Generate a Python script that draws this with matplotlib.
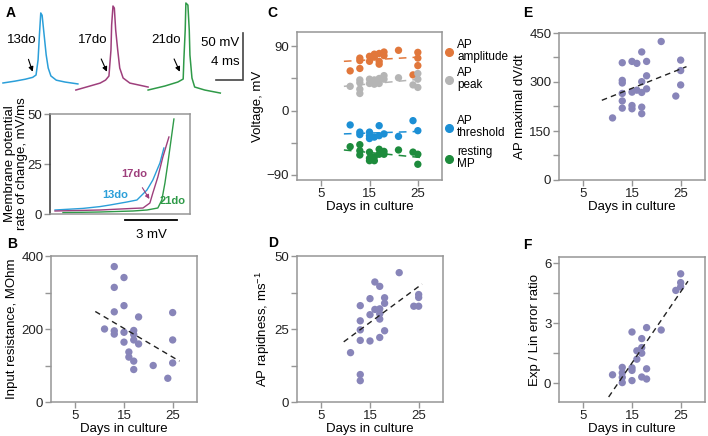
import matplotlib
matplotlib.use('Agg')
import matplotlib.pyplot as plt
import numpy as np

plt.rcParams['font.family'] = ['Liberation Sans', 'DejaVu Sans']
plt.rcParams['font.size'] = 9

# ---------------- data ----------------
# Panel A: example action potentials (time ms, voltage mV)
ap13_t = [0, 1.8, 3.3, 4.4, 4.9, 5.2, 5.4, 5.6, 5.8, 6.1, 6.4, 6.7, 7.1, 7.9, 9.2, 11.1]
ap13_v = [-60, -58, -56, -54, -51.5, -35.5, -9, 14.5, 12, -9, -30, -44, -52.5, -57, -59, -61]
ap17_t = [0, 2.1, 3.6, 4.4, 4.9, 5.2, 5.3, 5.5, 5.7, 5.9, 6.2, 6.5, 7.0, 8.0, 10.7]
ap17_v = [-67.5, -63.2, -60.1, -56.9, -52.6, -24.9, 1.6, 21.9, 19.7, -3.7, -24.9, -44.1, -54.7, -60.1, -64.3]
ap21_t = [0, 2.5, 4.4, 5.2, 5.3, 5.5, 5.6, 5.9, 6.1, 6.2, 6.5, 6.9, 8.4, 10.7]
ap21_v = [-67.5, -63.2, -59.0, -55.8, -35.6, -3.7, 25.1, 22.9, -3.7, -30.3, -54.7, -64.3, -67.5, -70.7]
ap_labels = ['13do', '17do', '21do']

# Panel A bottom: dV/dt vs membrane potential (mV, mV/ms)
ph13_x = [0.29, 1.91, 2.89, 3.47, 4.45, 5.03, 5.61, 5.95, 6.36, 6.59]
ph13_y = [2, 2.8, 3.7, 4.5, 6, 7, 12, 17, 25.5, 33]
ph17_x = [0.29, 2.89, 4.80, 5.38, 5.78, 5.95, 6.24, 6.53, 6.88]
ph17_y = [1.5, 2, 2.8, 3, 5.5, 10.5, 18.5, 28.5, 38.5]
ph21_x = [0.75, 2.89, 4.80, 5.61, 6.24, 6.47, 6.65, 6.82, 7.17]
ph21_y = [0.7, 1, 1.5, 2, 3, 7, 15.5, 25.5, 47.5]

# Panel B: input resistance
b_days = [13, 15, 13, 15, 13, 25, 18, 11, 13, 13, 15, 17, 17, 15, 17, 18, 25, 16, 16, 17, 25, 17, 21, 24]
b_res = [371, 341, 314, 264, 247, 245, 233, 200, 195, 186, 191, 196, 185, 164, 170, 159, 170, 137, 123, 112, 107, 89, 100, 65]
b_fit_x = [9.1, 26.4]
b_fit_y = [248, 112]

# Panel C: voltages
c_amp_days = [21, 18, 18, 17, 17, 17, 16, 16, 15, 15, 13, 13, 25, 25, 25, 24, 13, 11]
c_amp = [84.4, 82, 77, 80, 69, 65, 79, 75, 76, 69, 73.5, 70, 81.5, 73.5, 63, 50, 59, 55.6]
c_peak_days = [18, 21, 18, 17, 16, 15, 15, 13, 13, 13, 13, 11, 16, 17, 25, 25, 24, 25]
c_peak = [49, 46, 44, 45, 43, 44, 38, 43, 39, 30, 24, 34, 37, 38, 52, 44, 36, 32.5]
c_thr_days = [11, 13, 13, 15, 15, 16, 17, 17, 18, 21, 24, 25, 15]
c_thr = [-20, -30, -33.5, -30, -35, -37, -21, -35, -32.5, -36, -14, -28, -39]
c_rmp_days = [11, 13, 13, 13, 15, 15, 15, 16, 17, 17, 18, 18, 21, 24, 25, 25, 16]
c_rmp = [-50.4, -47.6, -56, -62, -58, -66.5, -70, -70, -54, -61, -61, -57, -55, -58, -61, -75, -64.6]
c_fit_x = [9.7, 25.5]
c_amp_fit = [69, 75]
c_peak_fit = [34, 44]
c_thr_fit = [-32.5, -29]
c_rmp_fit = [-55, -65.5]
c_legend = ['AP\namplitude', 'AP\npeak', 'AP\nthreshold', 'resting\nMP']

# Panel D: AP rapidness
d_days = [21, 16, 17, 13, 15, 18, 18, 16, 17, 15, 17, 17, 13, 13, 18, 13, 15, 17, 11, 13, 13, 24, 25, 25, 25]
d_rap = [44.3, 41.1, 39.6, 33.0, 35.4, 35.7, 33.8, 31.7, 31.9, 29.9, 30.2, 28.4, 27.8, 24.7, 24.4, 21.1, 20.9, 22.1, 16.9, 9.4, 7.3, 32.8, 32.8, 36.8, 35.8]
d_fit_x = [9.6, 25.7]
d_fit_y = [20.6, 40.4]

# Panel E: AP maximal dV/dt
e_days = [21, 17, 13, 15, 16, 18, 25, 25, 18, 13, 13, 17, 25, 16, 15, 17, 18, 13, 24, 13, 15, 13, 15, 17, 17, 11]
e_dvdt = [424, 392, 359, 363, 357, 363, 367, 335, 319, 305, 297, 301, 291, 275, 269, 268, 279, 265, 257, 242, 228, 220, 218, 223, 203, 190]
e_fit_x = [8.8, 26.2]
e_fit_y = [244, 347]

# Panel F: Exp / Lin error ratio
f_days = [25, 25, 25, 24, 18, 21, 15, 17, 17, 16, 17, 16, 13, 15, 18, 13, 15, 11, 13, 17, 18, 15, 13]
f_ratio = [5.46, 5.02, 4.81, 4.63, 2.77, 2.65, 2.55, 2.22, 1.77, 1.61, 1.49, 1.19, 0.78, 0.76, 0.71, 0.51, 0.63, 0.41, 0.28, 0.30, 0.20, 0.12, 0.02]
f_fit_x = [10.2, 26.5]
f_fit_y = [-0.70, 5.09]

# ---------------- style ----------------
W, H = 708, 436
fig = plt.figure(figsize=(W / 100, H / 100), dpi=100)

C13 = '#2b9fd9'
C17 = '#9e3f7c'
C21 = '#2f9a48'
DOT = '#8885b9'
SPINE = '#969696'


def add_ax(l, t, w, h):
    return fig.add_axes([l / W, 1 - (t + h) / H, w / W, h / H])


def style(ax):
    for s in ax.spines.values():
        s.set_color(SPINE)
        s.set_linewidth(1.1)
    ax.tick_params(which='both', direction='out', color=SPINE, width=1, labelsize=9.5,
                   labelcolor='#222222', pad=1.5)
    ax.tick_params(which='major', length=4)
    ax.tick_params(which='minor', length=4)


def panel_letter(x, y, s):
    fig.text(x / W, 1 - y / H, s, fontsize=10, fontweight='bold', ha='left', va='center')


# ---------- Panel A traces ----------
axt = add_ax(0, 0, 250, 100)
axt.set_axis_off()
axt.set_xlim(-0.44, 36.6)
axt.set_ylim(-78.1, 28.3)
offsets = [0, 10.8, 21.5]
for (tt, vv, col, off) in [(ap13_t, ap13_v, C13, offsets[0]), (ap17_t, ap17_v, C17, offsets[1]),
                           (ap21_t, ap21_v, C21, offsets[2])]:
    axt.plot(np.array(tt) + off, vv, color=col, lw=1.1)
for lab, tx, tip in zip(ap_labels, [2.8, 13.3, 24.1], [4.4, 15.4, 26.2]):
    axt.annotate(lab, xy=(tip, -48), xytext=(tx, -14.3), ha='center', va='center', fontsize=9.5,
                 arrowprops=dict(arrowstyle='-|>', color='k', lw=0.8, mutation_scale=7,
                                 shrinkA=8, shrinkB=0))
axt.plot([31.6, 35.6, 35.6], [-57, -57, -7], color='#444444', lw=1.2, solid_joinstyle='miter')
axt.text(35.0, -17.4, '50 mV', ha='right', va='center', fontsize=9.5)
axt.text(35.0, -37.7, '4 ms', ha='right', va='center', fontsize=9.5)
panel_letter(6, 13, 'A')

# ---------- Panel A bottom ----------
axa = add_ax(50, 114, 140, 100)
style(axa)
axa.plot(ph13_x, ph13_y, color=C13, lw=1)
axa.plot(ph17_x, ph17_y, color=C17, lw=1)
axa.plot(ph21_x, ph21_y, color=C21, lw=1)
axa.set_xlim(0, 8.1)
axa.set_ylim(0, 50)
axa.set_yticks([0, 25, 50])
axa.set_xticks([])
axa.spines['left'].set_color('#333333')
axa.text(3.8, 9.5, '13do', color=C13, fontsize=8, fontweight='bold', ha='center', va='center')
axa.annotate('17do', xy=(5.75, 7.5), xytext=(4.85, 20), color=C17, fontsize=8, fontweight='bold',
             ha='center', va='center',
             arrowprops=dict(arrowstyle='-|>', color=C17, lw=0.8, mutation_scale=6, shrinkA=5, shrinkB=0))
axa.text(7.1, 6.5, '21do', color=C21, fontsize=8, fontweight='bold', ha='center', va='center')
axa.set_ylabel('Membrane potential\nrate of change, mV/ms', fontsize=9.5, labelpad=0, linespacing=1.0)
axa.plot([4.35, 7.35], [-3, -3], color='k', lw=1.3, clip_on=False)
axa.text(5.85, -7.5, '3 mV', ha='center', va='top', fontsize=9.5)


def scatter_panel(ax, xs, ys, fx, fy):
    style(ax)
    ax.scatter(xs, ys, s=28, color=DOT, edgecolors='none', zorder=3, clip_on=False)
    ax.plot(fx, fy, color='#222222', lw=1, dashes=(4, 3), zorder=4)
    ax.set_xlim(0, 30)
    ax.set_xticks([5, 15, 25])
    ax.set_xlabel('Days in culture', fontsize=9.5, labelpad=1)


# ---------- Panel B ----------
axb = add_ax(51, 256, 146, 146)
scatter_panel(axb, b_days, b_res, b_fit_x, b_fit_y)
axb.set_ylim(0, 400)
axb.set_yticks([0, 200, 400])
axb.set_yticks([100, 300], minor=True)
axb.set_ylabel('Input resistance, MOhm', fontsize=9.5, labelpad=2)
panel_letter(7, 244, 'B')

# ---------- Panel C ----------
axc = add_ax(297, 32, 145, 148)
style(axc)
series = [(c_amp_days, c_amp, c_amp_fit, '#e1773b'),
          (c_peak_days, c_peak, c_peak_fit, '#b5b5b5'),
          (c_thr_days, c_thr, c_thr_fit, '#1c8fd5'),
          (c_rmp_days, c_rmp, c_rmp_fit, '#1d8b3c')]
for xs, ys, fy, col in series:
    axc.scatter(xs, ys, s=28, color=col, edgecolors='none', zorder=3)
    axc.plot(c_fit_x, fy, color=col, lw=1.1, dashes=(5, 4), zorder=4)
axc.set_xlim(0, 30)
axc.set_xticks([5, 15, 25])
axc.set_ylim(-97, 110)
axc.set_yticks([-90, 0, 90])
axc.set_yticks([-45, 45], minor=True)
axc.set_xlabel('Days in culture', fontsize=9.5, labelpad=1)
axc.set_ylabel('Voltage, mV', fontsize=9.5, labelpad=2)
leg_y = [52, 80, 128, 159]
for (xs, ys, fy, col), lab, yy in zip(series, c_legend, leg_y):
    fig.lines.append(plt.Line2D([449 / W], [1 - yy / H], marker='o', markersize=5.5, color=col,
                                transform=fig.transFigure, linestyle='none'))
    fig.text(457 / W, 1 - (yy - 1) / H, lab, fontsize=8.5, ha='left', va='center', linespacing=1.0)
panel_letter(267, 13, 'C')

# ---------- Panel D ----------
axd = add_ax(297, 256, 146, 146)
scatter_panel(axd, d_days, d_rap, d_fit_x, d_fit_y)
axd.set_ylim(0, 50)
axd.set_yticks([0, 25, 50])
axd.set_yticks([12.5, 37.5], minor=True)
axd.set_ylabel('AP rapidness, ms$^{\\mathregular{-1}}$', fontsize=9.5, labelpad=2)
panel_letter(268, 243, 'D')

# ---------- Panel E ----------
axe = add_ax(559, 33, 146, 147)
scatter_panel(axe, e_days, e_dvdt, e_fit_x, e_fit_y)
axe.set_ylim(0, 450)
axe.set_yticks([0, 150, 300, 450])
axe.set_yticks([75, 225, 375], minor=True)
axe.set_ylabel('AP maximal dV/dt', fontsize=9.5, labelpad=2)
panel_letter(523, 13, 'E')

# ---------- Panel F ----------
axf = add_ax(559, 257, 146, 145)
scatter_panel(axf, f_days, f_ratio, f_fit_x, f_fit_y)
axf.set_ylim(-0.95, 6.3)
axf.set_yticks([0, 3, 6])
axf.set_yticks([1.5, 4.5], minor=True)
axf.set_ylabel('Exp / Lin error ratio', fontsize=9.5, labelpad=2)
panel_letter(523, 245, 'F')

fig.savefig('out.png', dpi=100)
